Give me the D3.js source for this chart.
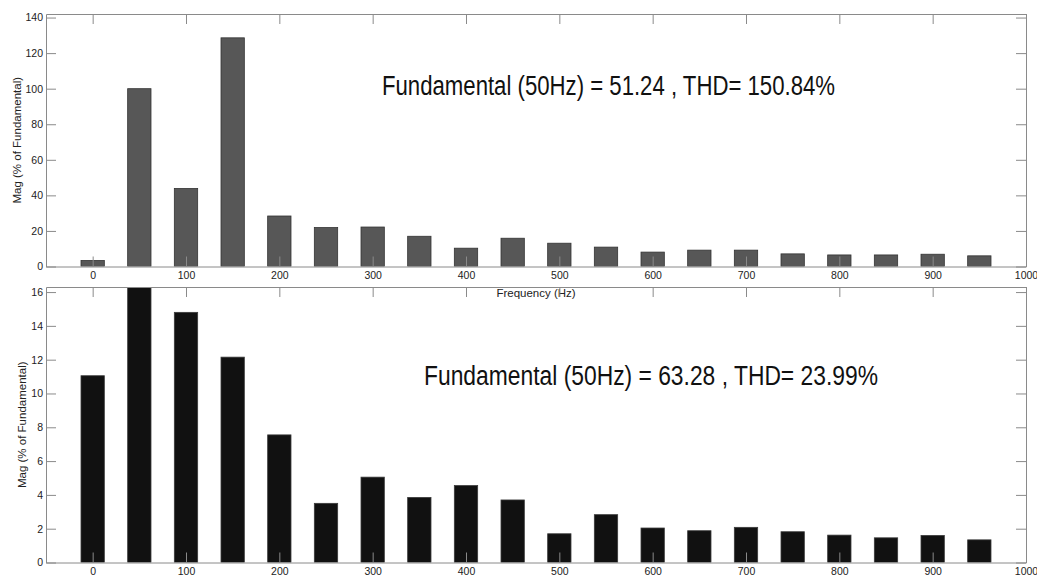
<!DOCTYPE html>
<html>
<head>
<meta charset="utf-8">
<script src="https://cdn.jsdelivr.net/npm/d3@7"></script>
<style>
  body { margin: 0; background: #fff; }
  svg { display: block; }
  .tick text { font-family: "Liberation Sans", Arial, sans-serif; font-size: 10.5px; fill: #222; }
  .lab { font-family: "Liberation Sans", Arial, sans-serif; font-size: 11.5px; fill: #222; }
  .note { font-family: "Liberation Sans Narrow", "Arial Narrow", "Liberation Sans", sans-serif; font-size: 27px; fill: #111; }
</style>
</head>
<body>
<svg id="svg1" width="1037" height="576"></svg>
<script>
// fréquences des harmoniques (Hz)
var freqs = [0, 50, 100, 150, 200, 250, 300, 350, 400, 450, 500, 550, 600, 650, 700, 750, 800, 850, 900, 950];

// spectre 1 (% du fondamental)
var magTop = [3.4, 100, 43.9, 128.6, 28.4, 21.9, 22.2, 17.0, 10.3, 15.9, 13.1, 10.9, 8.1, 9.2, 9.2, 7.1, 6.5, 6.5, 6.9, 6.0];
// spectre 2 (% du fondamental) - la barre 50 Hz dépasse l'échelle
var magBottom = [11.05, 100, 14.8, 12.15, 7.55, 3.5, 5.05, 3.85, 4.55, 3.7, 1.7, 2.83, 2.04, 1.88, 2.08, 1.82, 1.62, 1.46, 1.6, 1.34];

var xTicks = [0, 100, 200, 300, 400, 500, 600, 700, 800, 900, 1000];
var yTicksTop = [0, 20, 40, 60, 80, 100, 120, 140];
var yTicksBottom = [0, 2, 4, 6, 8, 10, 12, 14, 16];

var noteTop = "Fundamental (50Hz) = 51.24 , THD= 150.84%";
var noteBottom = "Fundamental (50Hz) = 63.28 , THD= 23.99%";

var svg = d3.select("#svg1");

// dessin d'un panneau (cadre, axes, barres)
function panel(id, box, yMax, yTicks, values, fill, stroke, note, notePos, xLabel) {
    var x = d3.scaleLinear().domain([-50, 1000]).range([box.left, box.right]);
    var y = d3.scaleLinear().domain([0, yMax]).range([box.bottom, box.top]);
    var barW = x(25) - x(0);

    svg.append("clipPath").attr("id", id)
        .append("rect")
        .attr("x", box.left).attr("y", box.top)
        .attr("width", box.right - box.left).attr("height", box.bottom - box.top);

    svg.append("g").attr("clip-path", "url(#" + id + ")")
        .selectAll("rect")
        .data(values)
        .enter()
        .append("rect")
        .attr("x", (d, i) => x(freqs[i]) - barW / 2)
        .attr("y", d => y(d))
        .attr("width", barW)
        .attr("height", d => y(0) - y(d))
        .style("fill", fill)
        .style("stroke", stroke)
        .style("stroke-width", 0.8);

    var axes = [
        svg.append("g").attr("transform", `translate(0, ${box.bottom})`)
            .call(d3.axisBottom(x).tickValues(xTicks).tickSize(-10).tickSizeOuter(0).tickPadding(5).tickFormat(d3.format("d"))),
        svg.append("g").attr("transform", `translate(0, ${box.top})`)
            .call(d3.axisTop(x).tickValues(xTicks).tickSize(-10).tickSizeOuter(0).tickFormat("")),
        svg.append("g").attr("transform", `translate(${box.left}, 0)`)
            .call(d3.axisLeft(y).tickValues(yTicks).tickSize(-10).tickSizeOuter(0).tickPadding(3)),
        svg.append("g").attr("transform", `translate(${box.right}, 0)`)
            .call(d3.axisRight(y).tickValues(yTicks).tickSize(-10).tickSizeOuter(0).tickFormat(""))
    ];
    axes.forEach(function(g) {
        g.selectAll("path, line").style("stroke", "#8a8a8a");
    });

    svg.append("text").attr("class", "lab")
        .attr("transform", `translate(${box.ylabX}, ${(box.top + box.bottom) / 2}) rotate(-90)`)
        .style("text-anchor", "middle")
        .text("Mag (% of Fundamental)");

    // police étroite absente : on force la largeur observée
    svg.append("text").attr("class", "note")
        .attr("x", notePos[0]).attr("y", notePos[1])
        .attr("textLength", notePos[2])
        .attr("lengthAdjust", "spacingAndGlyphs")
        .text(note);

    if (xLabel) {
        svg.append("text").attr("class", "lab")
            .attr("x", (box.left + box.right) / 2).attr("y", box.bottom + 30)
            .style("text-anchor", "middle")
            .text(xLabel);
    }
}

panel("clipTop", {left: 46, right: 1026, top: 14, bottom: 266.5, ylabX: 21},
      142, yTicksTop, magTop, "#575757", "#333", noteTop, [382, 95, 453], "Frequency (Hz)");
panel("clipBottom", {left: 46, right: 1026, top: 287, bottom: 562.5, ylabX: 26},
      16.3, yTicksBottom, magBottom, "#111", "#3a3a3a", noteBottom, [424, 385, 454], null);
</script>
</body>
</html>
